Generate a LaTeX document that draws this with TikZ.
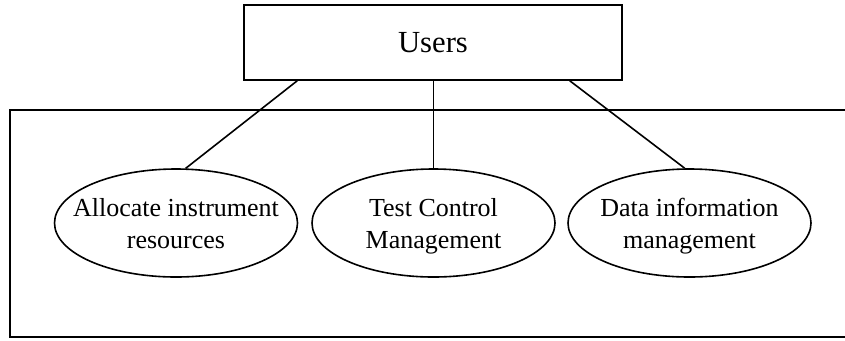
\documentclass[tikz,border=0pt]{standalone}
\usepackage{fontspec}
\setmainfont{Liberation Serif}
\usetikzlibrary{shapes.geometric}
\begin{document}
\begin{tikzpicture}[x=0.75pt,y=-0.75pt,
  line width=1.2pt,
  usebox/.style={draw, rectangle, minimum width=378*0.75pt, minimum height=75*0.75pt, inner sep=0pt, font=\fontsize{23pt}{27pt}\selectfont},
  usecase/.style={draw, ellipse, minimum width=243*0.75pt, minimum height=108*0.75pt, inner sep=0pt},
  uctext/.style={align=center, inner sep=0pt, yshift=-3.3*0.75pt, font=\fontsize{19.5pt}{23.3pt}\selectfont},
  link/.style={draw}]
\useasboundingbox (0,0) rectangle (845,340);
\draw (845,110) -- (10,110) -- (10,337) -- (845,337);
\node[usebox] (users) at (433,42.5) {Users};
\node[usecase, label={[uctext]center:Allocate instrument\strut\\resources\strut}] (e1) at (176,223) {};
\node[usecase, label={[uctext]center:Test Control\strut\\Management\strut}] (e2) at (433.5,223) {};
\node[usecase, label={[uctext]center:Data information\strut\\management\strut}] (e3) at (689.5,223) {};
\draw[link] ([xshift=54*0.75pt]users.south west) -- (e1.80);
\draw[link] (users.south -| e2.north) -- (e2.north);
\draw[link] ([xshift=-53*0.75pt]users.south east) -- (e3.95);
\end{tikzpicture}
\end{document}
